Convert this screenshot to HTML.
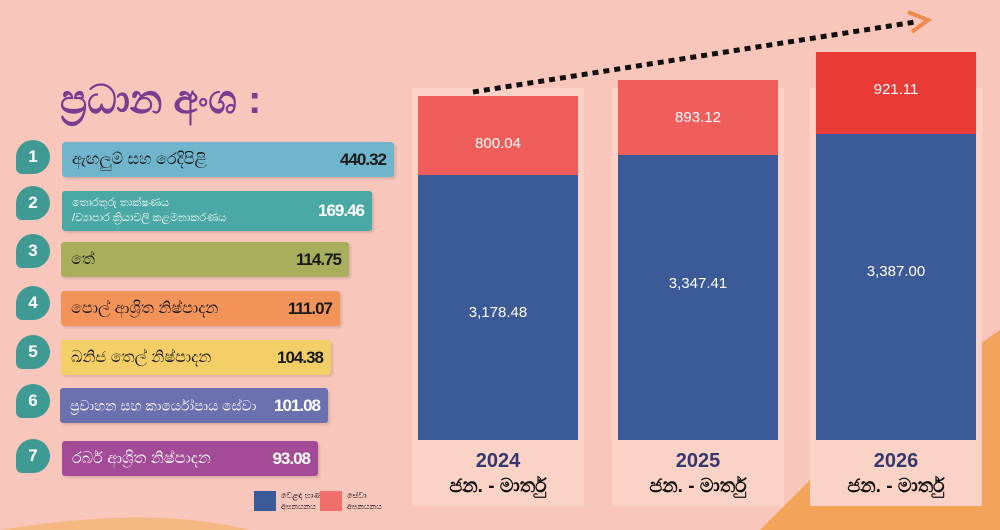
<!DOCTYPE html>
<html><head><meta charset="utf-8"><style>
body{margin:0;width:1000px;height:530px;overflow:hidden;background:#f8c6bb;font-family:"Liberation Sans",sans-serif;position:relative}
.a{position:absolute}
.bar{position:absolute;height:35px;border-radius:3px;box-shadow:2px 2px 2px rgba(0,0,0,.12)}
.bar .v{position:absolute;right:8px;top:50%;transform:translateY(-50%);font-weight:bold;font-size:17px;color:#1a1a1a;letter-spacing:-1px}
.bar .t{position:absolute;left:10px;top:50%;transform:translateY(-50%);font-size:16px;color:#111;white-space:nowrap}
.n{position:absolute;left:16px;width:34px;height:34px;border-radius:50% 50% 50% 6px;background:#3f9a94;color:#fff;font-weight:bold;font-size:17px;text-align:center;line-height:34px}
.panel{position:absolute;background:#fbd2c6;top:88px;height:418px}
.red{position:absolute;background:#ef5e5b;color:#fff;font-size:15px;text-align:center}
.blue{position:absolute;background:#3b5a97;color:#fff;font-size:15px;text-align:center}
.yr{position:absolute;width:160px;text-align:center;color:#34386e;font-weight:bold;font-size:20px}
.mo{position:absolute;width:160px;text-align:center;color:#111;font-weight:bold;font-size:19px}
</style></head><body>
<svg class="a" style="left:0;top:0" width="1000" height="530">
<path d="M760 530 L870 420 L1000 330 L1000 530 Z" fill="#f4a35a"/>
<path d="M0 530 Q150 505 250 530 Z" fill="#f6b882"/>
</svg>
<div class="panel" style="left:412px;width:172px"></div>
<div class="panel" style="left:612px;width:172px"></div>
<div class="panel" style="left:810px;width:172px"></div>
<svg class="a" style="left:0;top:0" width="1000" height="530">
<line x1="473" y1="92" x2="915" y2="22" stroke="#111" stroke-width="5" stroke-dasharray="6 5"/>
<polyline points="908,12 928,20 912,32" fill="none" stroke="#f08a4e" stroke-width="4"/>
</svg>
<div class="red" style="left:418px;top:96px;width:160px;height:79px;line-height:95px">800.04</div>
<div class="blue" style="left:418px;top:175px;width:160px;height:265px;line-height:275px">3,178.48</div>
<div class="red" style="left:618px;top:80px;width:160px;height:75px;line-height:75px">893.12</div>
<div class="blue" style="left:618px;top:155px;width:160px;height:285px;line-height:258px">3,347.41</div>
<div class="red" style="left:816px;top:52px;width:160px;height:82px;line-height:76px;background:#ea3b36">921.11</div>
<div class="blue" style="left:816px;top:134px;width:160px;height:306px;line-height:276px">3,387.00</div>
<div class="yr" style="left:418px;top:450px">2024</div><div class="mo" style="left:418px;top:476px">ජන. - මාර්තු</div>
<div class="yr" style="left:618px;top:450px">2025</div><div class="mo" style="left:618px;top:476px">ජන. - මාර්තු</div>
<div class="yr" style="left:816px;top:450px">2026</div><div class="mo" style="left:816px;top:476px">ජන. - මාර්තු</div>
<div class="a" style="left:254px;top:491px;width:22px;height:20px;background:#3b5a97"></div>
<div class="a" style="left:281px;top:490px;font-size:8px;line-height:11px">වෙළඳ භාණ්ඩ<br>අපනයනය</div>
<div class="a" style="left:320px;top:491px;width:22px;height:20px;background:#ef6f6c"></div>
<div class="a" style="left:347px;top:490px;font-size:8px;line-height:11px">සේවා<br>අපනයනය</div>
<div class="a" style="left:60px;top:78px;font-size:40px;font-weight:bold;color:#7b3b91">ප්‍රධාන අංශ :</div>
<div class="n" style="top:140px">1</div>
<div class="bar" style="left:62px;top:142px;width:332px;background:#70b5cb"><span class="t">ඇඟලුම් සහ රෙදිපිළි</span><span class="v">440.32</span></div>
<div class="n" style="top:186px">2</div>
<div class="bar" style="left:62px;top:191px;width:310px;height:40px;background:#4aa9a5"><span class="t" style="font-size:11px;color:#fff;line-height:15px">තොරතුරු තාක්ෂණය<br>/ව්‍යාපාර ක්‍රියාවලි කළමනාකරණය</span><span class="v" style="color:#fff">169.46</span></div>
<div class="n" style="top:234px">3</div>
<div class="bar" style="left:61px;top:242px;width:288px;background:#a8ae5c"><span class="t">තේ</span><span class="v">114.75</span></div>
<div class="n" style="top:286px">4</div>
<div class="bar" style="left:61px;top:291px;width:279px;background:#f2935a"><span class="t">පොල් ආශ්‍රිත නිෂ්පාදන</span><span class="v">111.07</span></div>
<div class="n" style="top:335px">5</div>
<div class="bar" style="left:61px;top:340px;width:270px;background:#f4cf68"><span class="t">ඛනිජ තෙල් නිෂ්පාදන</span><span class="v">104.38</span></div>
<div class="n" style="top:384px">6</div>
<div class="bar" style="left:60px;top:388px;width:268px;background:#6b70ae"><span class="t" style="color:#fff;font-size:14px">ප්‍රවාහන සහ කාර්යෝපාය සේවා</span><span class="v" style="color:#fff">101.08</span></div>
<div class="n" style="top:439px">7</div>
<div class="bar" style="left:62px;top:441px;width:256px;background:#a34b96"><span class="t" style="color:#fff">රබර් ආශ්‍රිත නිෂ්පාදන</span><span class="v" style="color:#fff">93.08</span></div>
</body></html>
